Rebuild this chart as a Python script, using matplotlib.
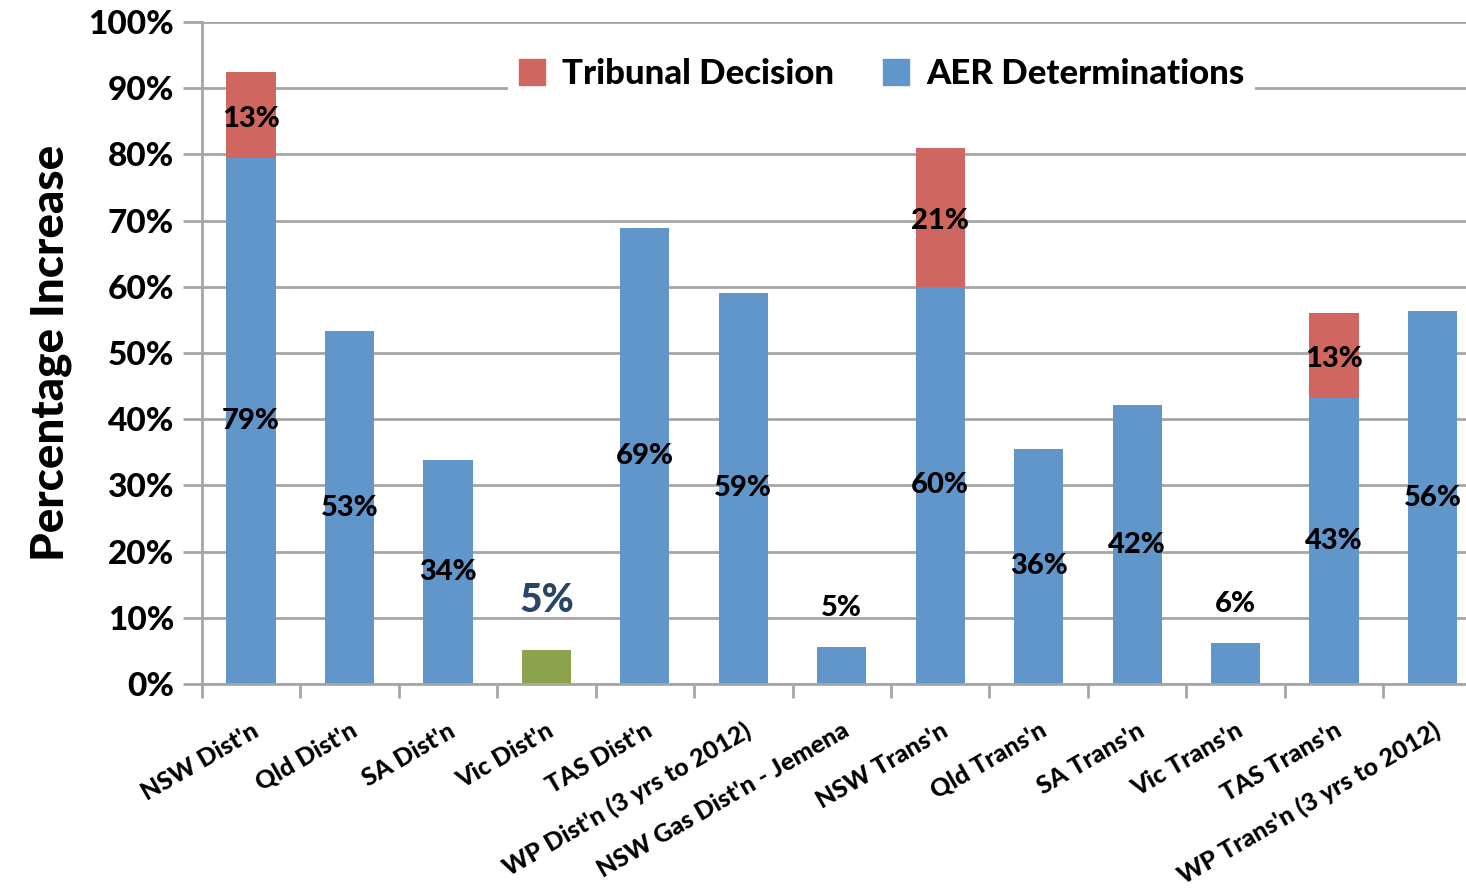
import matplotlib.pyplot as plt
import matplotlib.patches as mpatches
import numpy as np

plt.rcParams['font.family'] = ['Lato', 'DejaVu Sans']

categories = ["NSW Dist'n", "Qld Dist'n", "SA Dist'n", "Vic Dist'n", "TAS Dist'n",
              "WP Dist'n (3 yrs to 2012)", "NSW Gas Dist'n - Jemena", "NSW Trans'n",
              "Qld Trans'n", "SA Trans'n", "Vic Trans'n", "TAS Trans'n",
              "WP Trans'n (3 yrs to 2012)"]
aer = [79.4, 53.3, 33.8, 5.1, 68.9, 59.1, 5.6, 60.0, 35.5, 42.1, 6.2, 43.2, 56.3]
tribunal = [13.0, 0, 0, 0, 0, 0, 0, 21.0, 0, 0, 0, 12.8, 0]
aer_labels = ['79%', '53%', '34%', '5%', '69%', '59%', '5%', '60%', '36%', '42%', '6%', '43%', '56%']
trib_labels = ['13%', '', '', '', '', '', '', '21%', '', '', '', '13%', '']

blue = '#6096CA'
red = '#CF6660'
green = '#8CA24C'
grid_c = '#A6A6A6'
W = 'black'

fig = plt.figure(figsize=(14.66, 8.93), dpi=100)
ax = fig.add_axes([201.75 / 1466, 209 / 893, 1280 / 1466, 662 / 893])

x = np.arange(len(categories))
colors = [green if c == "Vic Dist'n" else blue for c in categories]
ax.bar(x, aer, width=0.5, color=colors, zorder=2)
ax.bar(x, tribunal, width=0.5, bottom=aer, color=red, zorder=2)

# labels
for i in range(len(categories)):
    if categories[i] == "Vic Dist'n":
        ax.annotate(aer_labels[i], (x[i], aer[i]), xytext=(0, 36), textcoords='offset points',
                    ha='center', va='center', fontsize=28, fontweight=W, color='#2A4466')
    elif aer[i] < 10:
        ax.annotate(aer_labels[i], (x[i], aer[i]), xytext=(0, 28), textcoords='offset points',
                    ha='center', va='center', fontsize=21, fontweight=W, color='black')
    else:
        ax.text(x[i], aer[i] / 2, aer_labels[i], ha='center', va='center',
                fontsize=21, fontweight=W, color='black', zorder=3)
    if tribunal[i] > 0:
        ax.text(x[i], aer[i] + tribunal[i] / 2 - 0.5, trib_labels[i], ha='center', va='center',
                fontsize=21, fontweight=W, color='black', zorder=3)

ax.set_xlim(-0.5, len(categories) - 0.5)
ax.set_ylim(0, 100)
ax.set_yticks(np.arange(0, 101, 10))
ax.set_yticklabels([f'{v}%' for v in range(0, 101, 10)], fontsize=24, fontweight=W)
ax.yaxis.grid(True, color=grid_c, linewidth=2, zorder=0)
ax.set_axisbelow(True)

ax.set_xticks(x)
ax.set_xticklabels(categories, rotation=30, ha='right', va='top', rotation_mode='anchor',
                   fontsize=18, fontweight=W)
ax.set_xticks(np.arange(-0.5, len(categories), 1), minor=True)
ax.tick_params(axis='x', which='major', length=0, pad=25)
ax.tick_params(axis='x', which='minor', length=10, width=2, color=grid_c)
ax.tick_params(axis='y', length=14, width=2, color=grid_c, pad=6)

for s in ['top', 'right']:
    ax.spines[s].set_visible(False)
for s in ['left', 'bottom']:
    ax.spines[s].set_color(grid_c)
    ax.spines[s].set_linewidth(2)

ax.set_ylabel('Percentage Increase', fontsize=33, fontweight=W, labelpad=12)

handles = [mpatches.Patch(color=red, label='Tribunal Decision'),
           mpatches.Patch(color=blue, label='AER Determinations')]
leg = ax.legend(handles=handles, loc='center', bbox_to_anchor=(0.531, 0.921), ncol=2,
                frameon=True, fancybox=False, edgecolor='none', facecolor='white', framealpha=1,
                prop={'size': 25, 'weight': W}, handlelength=0.75, handleheight=0.75,
                handletextpad=0.5, columnspacing=1.4, borderpad=0.3)
leg.set_zorder(5)

fig.savefig('out.png', dpi=100)
